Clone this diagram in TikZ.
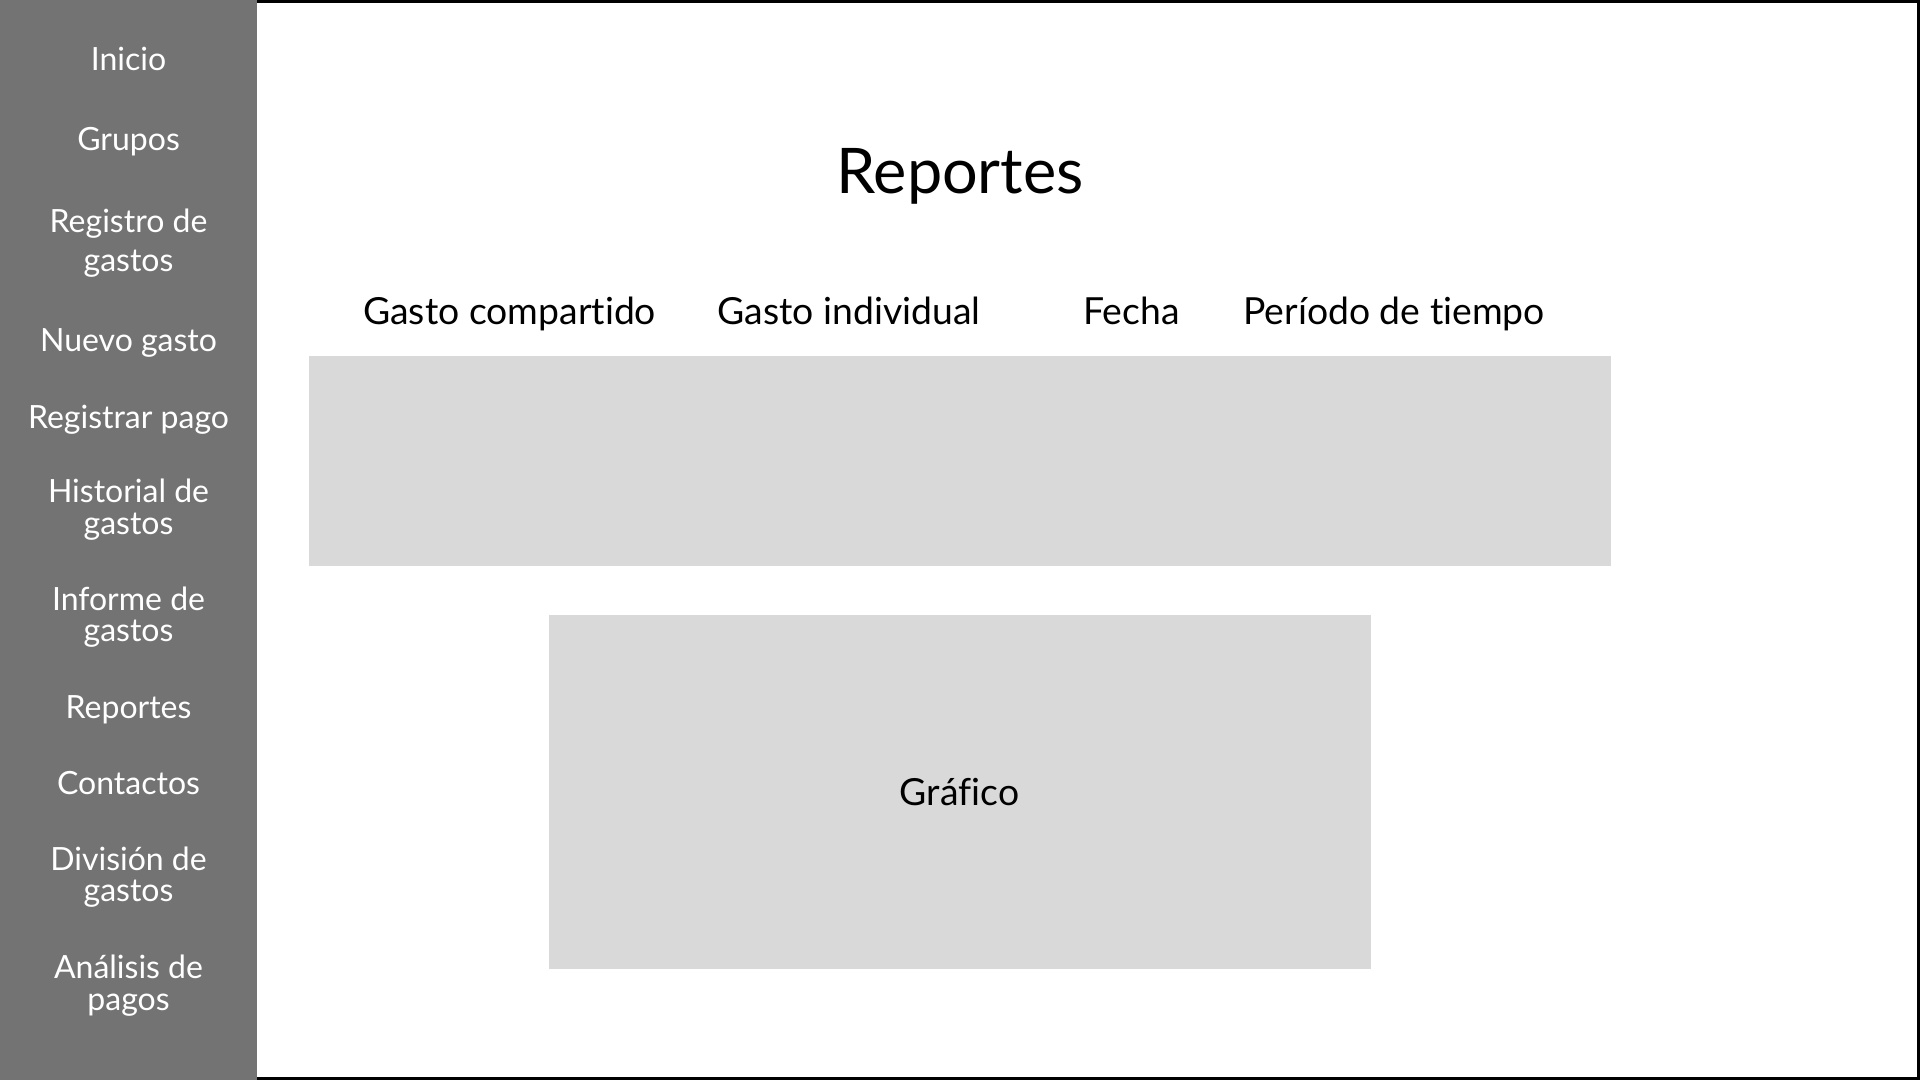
\documentclass[tikz,border=0pt]{standalone}
\usepackage{fontspec}
\setmainfont{Lato}[Ligatures={NoCommon}]
\definecolor{sidebar}{HTML}{737373}
\definecolor{panel}{HTML}{D9D9D9}
\begin{document}
\begin{tikzpicture}[x=1pt,y=-1pt,
  navtxt/.style={anchor=base,inner sep=0pt,text=white,font=\fontsize{12}{14}\selectfont},
  coltxt/.style={anchor=base,inner sep=0pt,text=black,font=\fontsize{14}{16}\selectfont},
  titletxt/.style={anchor=base,inner sep=0pt,text=black,font=\fontsize{23.6}{28}\selectfont},
  panelbox/.style={fill=panel,draw=none}]
\useasboundingbox (0,0) rectangle (720,405);
\fill[white] (0,0) rectangle (720,405);
% main frame (left edge hidden by the sidebar)
\draw[line width=1.2pt] (96.3,0.6) -- (719.4,0.6) -- (719.4,404.4) -- (96.3,404.4);
% sidebar
\fill[sidebar] (0,0) rectangle (96.3,405);
% sidebar items
\node[navtxt] (n1) at (48.2,26.25) {Inicio};
\node[navtxt] (n2) at (48.2,56.25) {Grupos};
\node[navtxt] (n3) at (48.2,87.3) {Registro de};
\node[navtxt] (n3b) at (48.2,101.9) {gastos};
\node[navtxt] (n4) at (48.2,131.9) {Nuevo gasto};
\node[navtxt] (n5) at (48.2,160.6) {Registrar pago};
\node[navtxt] (n6) at (48.2,188.5) {Historial de};
\node[navtxt] (n6b) at (48.2,200.25) {gastos};
\node[navtxt] (n7) at (48.2,228.75) {Informe de};
\node[navtxt] (n7b) at (48.2,240.6) {gastos};
\node[navtxt] (n8) at (48.2,269.4) {Reportes};
\node[navtxt] (n9) at (48.2,298.1) {Contactos};
\node[navtxt] (n10) at (48.2,326.5) {División de};
\node[navtxt] (n10b) at (48.2,338.1) {gastos};
\node[navtxt] (n11) at (48.2,366.9) {Análisis de};
\node[navtxt] (n11b) at (48.2,378.75) {pagos};
% title
\node[titletxt] (title) at (360,72.5) {Reportes};
% column headers
\node[coltxt] (c1) at (191.1,121.7) {Gasto compartido};
\node[coltxt] (c2) at (318.4,121.7) {Gasto individual};
\node[coltxt] (c3) at (424.3,121.7) {Fecha};
\node[coltxt] (c4) at (522.8,121.7) {Período de tiempo};
% table panel
\path[panelbox] (115.7,133.5) rectangle (604.3,212.3);
% chart panel
\path[panelbox] (205.7,230.5) rectangle (514.3,363.2);
\node[coltxt] (chart) at (359.8,302.1) {Gráfico};
\end{tikzpicture}
\end{document}
